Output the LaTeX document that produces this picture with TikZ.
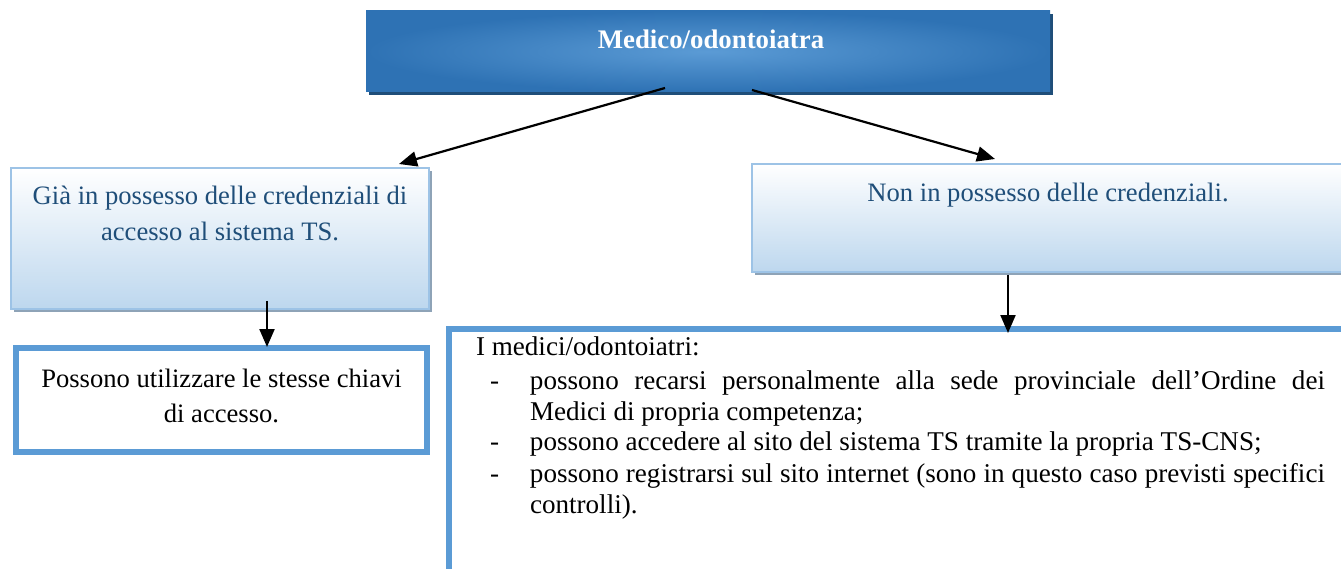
\documentclass[tikz,border=0pt]{standalone}
\usepackage{fontspec}
\setmainfont{Liberation Serif}
\usetikzlibrary{arrows.meta,calc,shadows}
\definecolor{topdark}{HTML}{2E72B4}
\definecolor{toplight}{HTML}{5B9BD5}
\definecolor{topshadow}{HTML}{1F4E79}
\definecolor{lightborder}{HTML}{9DC3E6}
\definecolor{lightfill}{HTML}{BDD7EE}
\definecolor{boxshadow}{HTML}{8EA3B7}
\definecolor{textblue}{HTML}{1F4E79}
\definecolor{strongborder}{HTML}{5B9BD5}
\newcommand{\itemdash}{\leavevmode\llap{\makebox[40pt][l]{-}}}
\begin{document}
\begin{tikzpicture}[x=1pt,y=-1pt,
  every node/.style={inner sep=0pt, outer sep=0pt},
  topbox/.style={rectangle, shading=radial, inner color=toplight, outer color=topdark,
    drop shadow={shadow xshift=3pt, shadow yshift=-3pt, fill=topshadow, opacity=1}},
  lightbox/.style={rectangle, draw=lightborder, line width=2pt, top color=white, bottom color=lightfill,
    drop shadow={shadow xshift=3pt, shadow yshift=-3pt, fill=boxshadow, opacity=1}},
  strongbox/.style={rectangle, draw=strongborder, line width=6pt, fill=white},
  conn/.style={line width=2.2pt, -{Triangle[length=18pt,width=15pt]}},
  txt/.style={font=\fontsize{26.6}{31}\selectfont, anchor=base}
]
\useasboundingbox (0,0) rectangle (1341,569);
\clip (0,0) rectangle (1341,569);
\fill[white] (0,0) rectangle (1341,569);

% boxes
\node[topbox, minimum width=684pt, minimum height=81pt] (top) at (708,51.5) {};
\node[lightbox, minimum width=418pt, minimum height=141pt] (left) at (220,238.5) {};
\node[lightbox, minimum width=592pt, minimum height=108pt] (right) at (1048,218) {};
\node[strongbox, minimum width=411pt, minimum height=104pt] (bl) at (221.5,400) {};
\node[strongbox, minimum width=903pt, minimum height=274pt] (br) at (900,466) {};

% texts
\node[txt, text=white, font=\fontsize{26.8}{31}\selectfont\bfseries] (toptext) at (711,49) {Medico/odontoiatra};
\node[txt, text=textblue] (lefttext) at (220,205)
  {\begin{minipage}[t]{410pt}\centering\fontsize{26.6}{36}\selectfont Già in possesso delle credenziali di\\ accesso al sistema TS.\end{minipage}};
\node[txt, text=textblue] (righttext) at (1048,202) {Non in possesso delle credenziali.};
\node[txt] (bltext) at (221.5,387)
  {\begin{minipage}[t]{405pt}\centering\fontsize{26.6}{35}\selectfont Possono utilizzare le stesse chiavi\\ di accesso.\end{minipage}};
\node[txt, anchor=base west] (brtext) at (476,355)
  {\begin{minipage}[t]{849pt}\fontsize{27.1}{31}\selectfont\setlength{\parindent}{0pt}%
I medici/odontoiatri:\par\vspace{3pt}
\leftskip=54pt
\itemdash possono recarsi personalmente alla sede provinciale dell’Ordine dei\linebreak Medici di propria competenza;\par
\itemdash possono accedere al sito del sistema TS tramite la propria TS-CNS;\par
\itemdash possono registrarsi sul sito internet (sono in questo caso previsti specifici\linebreak controlli).\par
\end{minipage}};

% connectors
\draw[conn] ($(top.south)+(-43,-4)$) -- ($(left.north east)+(-30,-4)$);
\draw[conn] ($(top.south)+(44,-2)$) -- ($(right.north)+(-53,-5)$);
\draw[conn] ($(left.south)+(47,-8)$) -- ($(bl.north)+(45.5,-1)$);
\draw[conn] ($(right.south)+(-40,3)$) -- ($(br.north)+(108,4)$);
\end{tikzpicture}
\end{document}
